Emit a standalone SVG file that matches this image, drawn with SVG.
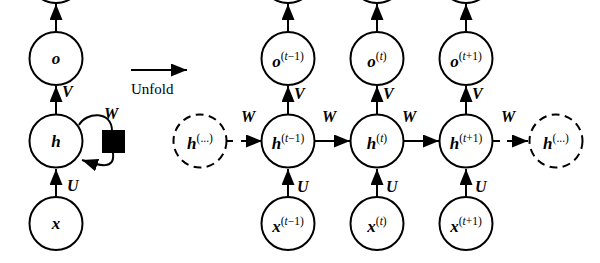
<svg xmlns="http://www.w3.org/2000/svg" width="600" height="263" viewBox="0 0 600 263">
<defs>
<marker id="ah" markerUnits="userSpaceOnUse" markerWidth="16" markerHeight="13" refX="16" refY="6.5" orient="auto">
<path d="M0,0 L16,6.5 L0,13 z" fill="#000"/>
</marker>
<style>
.n{fill:#fff;stroke:#000;stroke-width:2}
.d{fill:#fff;stroke:#000;stroke-width:2;stroke-dasharray:8 5.3}
.c{stroke:#000;stroke-width:2;fill:none;marker-end:url(#ah)}
.m{font-family:"Liberation Serif","DejaVu Serif",serif;font-weight:bold;font-style:italic;font-size:17px;fill:#000}
.l{font-family:"Liberation Serif","DejaVu Serif",serif;font-weight:bold;font-style:italic;font-size:16px;fill:#000}
.s{font-family:"Liberation Serif","DejaVu Serif",serif;font-weight:normal;font-style:normal;font-size:11.5px;fill:#000}
.i{font-style:italic}
.t{font-family:"Liberation Serif","DejaVu Serif",serif;font-size:15px;fill:#000}
</style>
</defs>
<rect width="600" height="263" fill="#fff"/>
<g id="connectors">
<line class="c" x1="56" y1="32" x2="56" y2="4"/>
<line class="c" x1="56" y1="115" x2="56" y2="86"/>
<line class="c" x1="56" y1="197" x2="56" y2="169"/>
<path class="c" d="M113,153 C115,170 100,166 82,160"/>
<path d="M79,125 C86,112 112,110 112,131" fill="none" stroke="#000" stroke-width="2"/>
<line class="c" x1="131" y1="70" x2="187" y2="70"/>
<line class="c" x1="288" y1="32" x2="288" y2="4"/>
<line class="c" x1="288" y1="115" x2="288" y2="86"/>
<line class="c" x1="288" y1="197" x2="288" y2="169"/>
<line class="c" x1="377" y1="32" x2="377" y2="4"/>
<line class="c" x1="377" y1="115" x2="377" y2="86"/>
<line class="c" x1="377" y1="197" x2="377" y2="169"/>
<line class="c" x1="466" y1="32" x2="466" y2="4"/>
<line class="c" x1="466" y1="115" x2="466" y2="86"/>
<line class="c" x1="466" y1="197" x2="466" y2="169"/>
<line class="c" x1="227" y1="141" x2="262" y2="141" stroke-dasharray="6 8"/>
<line class="c" x1="315" y1="141" x2="350" y2="141"/>
<line class="c" x1="404" y1="141" x2="439" y2="141"/>
<line class="c" x1="493" y1="141" x2="528" y2="141" stroke-dasharray="7 7"/>
</g>
<g id="edge-labels">
<text class="l" x="62" y="97">V</text>
<text class="l" x="104" y="119">W</text>
<text class="l" x="67" y="191">U</text>
<text class="t" x="131" y="94">Unfold</text>
<text class="l" x="294" y="99">V</text>
<text class="l" x="383" y="99">V</text>
<text class="l" x="472" y="99">V</text>
<text class="l" x="297" y="192">U</text>
<text class="l" x="386" y="192">U</text>
<text class="l" x="475" y="192">U</text>
<text class="l" x="241" y="122">W</text>
<text class="l" x="322" y="122">W</text>
<text class="l" x="402" y="122">W</text>
<text class="l" x="501" y="122">W</text>
</g>
<g id="edge-top">
<circle class="n" cx="56" cy="-24" r="27"/>
<circle class="n" cx="288" cy="-24" r="27"/>
<circle class="n" cx="377" cy="-24" r="27"/>
<circle class="n" cx="466" cy="-24" r="27"/>
</g>
<g id="node-o"><circle class="n" cx="56" cy="58.5" r="26.5"/><text class="m" x="56" y="64" text-anchor="middle">o</text></g>
<g id="node-h"><circle class="n" cx="56" cy="141" r="26.5"/><text class="m" x="56" y="147" text-anchor="middle">h</text></g>
<g id="node-x"><circle class="n" cx="56" cy="223.5" r="26.5"/><text class="m" x="56" y="229" text-anchor="middle">x</text></g>
<g id="node-W"><rect x="102" y="130" width="23" height="23" fill="#000"/></g>
<g id="node-o-tm1"><circle class="n" cx="288" cy="58.5" r="26.5"/><text class="m" x="288" y="67" text-anchor="middle">o<tspan class="s" dy="-7">(<tspan class="i">t</tspan>−1)</tspan></text></g>
<g id="node-o-t"><circle class="n" cx="377" cy="58.5" r="26.5"/><text class="m" x="377" y="67" text-anchor="middle">o<tspan class="s" dy="-7">(<tspan class="i">t</tspan>)</tspan></text></g>
<g id="node-o-tp1"><circle class="n" cx="466" cy="58.5" r="26.5"/><text class="m" x="466" y="67" text-anchor="middle">o<tspan class="s" dy="-7">(<tspan class="i">t</tspan>+1)</tspan></text></g>
<g id="node-h-prev"><circle class="d" cx="200" cy="141" r="26.5"/><text class="m" x="200" y="149" text-anchor="middle">h<tspan class="s" dy="-7">(...)</tspan></text></g>
<g id="node-h-tm1"><circle class="n" cx="288" cy="141" r="26.5"/><text class="m" x="288" y="149" text-anchor="middle">h<tspan class="s" dy="-7">(<tspan class="i">t</tspan>−1)</tspan></text></g>
<g id="node-h-t"><circle class="n" cx="377" cy="141" r="26.5"/><text class="m" x="377" y="149" text-anchor="middle">h<tspan class="s" dy="-7">(<tspan class="i">t</tspan>)</tspan></text></g>
<g id="node-h-tp1"><circle class="n" cx="466" cy="141" r="26.5"/><text class="m" x="466" y="149" text-anchor="middle">h<tspan class="s" dy="-7">(<tspan class="i">t</tspan>+1)</tspan></text></g>
<g id="node-h-next"><circle class="d" cx="556" cy="141" r="26.5"/><text class="m" x="556" y="149" text-anchor="middle">h<tspan class="s" dy="-7">(...)</tspan></text></g>
<g id="node-x-tm1"><circle class="n" cx="288" cy="223.5" r="26.5"/><text class="m" x="288" y="232" text-anchor="middle">x<tspan class="s" dy="-7">(<tspan class="i">t</tspan>−1)</tspan></text></g>
<g id="node-x-t"><circle class="n" cx="377" cy="223.5" r="26.5"/><text class="m" x="377" y="232" text-anchor="middle">x<tspan class="s" dy="-7">(<tspan class="i">t</tspan>)</tspan></text></g>
<g id="node-x-tp1"><circle class="n" cx="466" cy="223.5" r="26.5"/><text class="m" x="466" y="232" text-anchor="middle">x<tspan class="s" dy="-7">(<tspan class="i">t</tspan>+1)</tspan></text></g>
</svg>
